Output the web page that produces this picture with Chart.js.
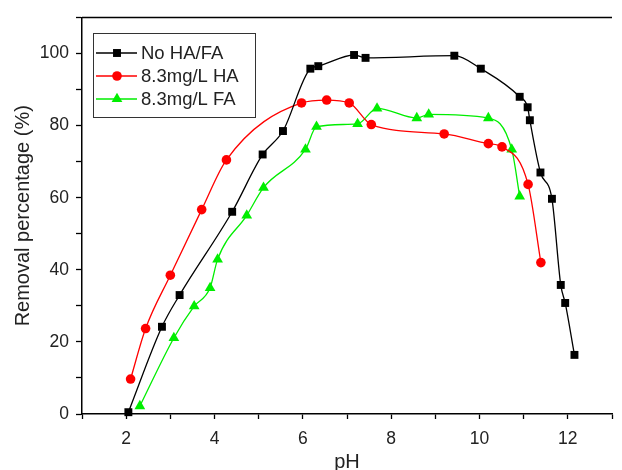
<!DOCTYPE html>
<html>
<head>
<meta charset="utf-8">
<script src="https://cdn.jsdelivr.net/npm/chart.js@4.4.1/dist/chart.umd.min.js"></script>
<style>
  html, body { margin: 0; padding: 0; background: #fff; }
  #wrap { width: 622px; height: 470px; position: relative; }
</style>
</head>
<body>
<div id="wrap"><canvas id="phChart"></canvas></div>
<script>
// pH vs removal data
const phNone = [2.05, 2.81, 3.21, 4.40, 5.09, 5.55, 6.17, 6.35, 7.16, 7.42, 9.43, 10.03, 10.91, 11.09, 11.14, 11.38, 11.64, 11.84, 11.94, 12.15];
const remNone = [0.5, 24.2, 33.0, 56.1, 72.0, 78.5, 95.8, 96.5, 99.6, 98.8, 99.4, 95.8, 88.0, 85.1, 81.5, 67.0, 59.7, 35.8, 30.8, 16.4];

const phHA = [2.10, 2.44, 3.00, 3.71, 4.27, 5.97, 6.54, 7.05, 7.55, 9.20, 10.20, 10.51, 11.10, 11.39];
const remHA = [9.7, 23.7, 38.5, 56.7, 70.5, 86.3, 87.1, 86.3, 80.3, 77.7, 75.0, 74.1, 63.7, 42.0];

const phFA = [2.31, 3.08, 3.54, 3.90, 4.07, 4.73, 5.11, 6.06, 6.31, 7.24, 7.68, 8.58, 8.85, 10.20, 10.73, 10.91];
const remFA = [2.2, 21.1, 29.9, 35.0, 42.9, 55.1, 62.8, 73.4, 79.7, 80.5, 84.8, 82.1, 83.1, 82.1, 73.4, 60.4];

const seriesLabels = ['No HA/FA', '8.3mg/L HA', '8.3mg/L FA'];
const xTickLabels = [2, 4, 6, 8, 10, 12];
const yTickLabels = [0, 20, 40, 60, 80, 100];

const FONT = "'Liberation Sans', Arial, sans-serif";

function toPoints(xs, ys) {
    return xs.map((x, i) => ({ x: x, y: ys[i] }));
}

// legend box inside the plot, plus the top frame line
const frameAndLegend = {
    id: 'frameAndLegend',
    afterDraw(chart) {
        const ctx = chart.ctx;
        const area = chart.chartArea;
        ctx.save();
        ctx.strokeStyle = '#000';
        ctx.lineWidth = 1.5;
        ctx.beginPath();
        ctx.moveTo(area.left, area.top);
        ctx.lineTo(area.right, area.top);
        ctx.stroke();

        const box = { x: 93, y: 33, w: 162, h: 84 };
        ctx.lineWidth = 1;
        ctx.strokeStyle = '#333';
        ctx.strokeRect(box.x + 0.5, box.y + 0.5, box.w, box.h);

        const rows = [53, 76, 99];
        chart.data.datasets.forEach((ds, i) => {
            const y = rows[i];
            ctx.strokeStyle = ds.borderColor;
            ctx.lineWidth = 1.3;
            ctx.beginPath();
            ctx.moveTo(96, y);
            ctx.lineTo(137, y);
            ctx.stroke();

            ctx.fillStyle = ds.pointBackgroundColor;
            const cx = 117;
            const r = ds.pointRadius;
            ctx.beginPath();
            if (ds.pointStyle === 'rect') {
                const s = r * Math.SQRT1_2;
                ctx.rect(cx - s, y - s, 2 * s, 2 * s);
            } else if (ds.pointStyle === 'triangle') {
                ctx.moveTo(cx, y - r);
                ctx.lineTo(cx + r * 0.866, y + r / 2);
                ctx.lineTo(cx - r * 0.866, y + r / 2);
                ctx.closePath();
            } else {
                ctx.arc(cx, y, r, 0, Math.PI * 2);
            }
            ctx.fill();

            ctx.fillStyle = '#222';
            ctx.font = '18.5px ' + FONT;
            ctx.textBaseline = 'middle';
            ctx.textAlign = 'left';
            ctx.fillText(ds.label, 141, y + 1);
        });
        ctx.restore();
    }
};

new Chart(document.getElementById('phChart'), {
    type: 'line',
    data: {
        datasets: [
            {
                label: seriesLabels[0], data: toPoints(phNone, remNone),
                borderColor: '#000', backgroundColor: '#000', pointBackgroundColor: '#000',
                pointStyle: 'rect', pointRadius: 5.6, pointBorderWidth: 0,
                borderWidth: 1.3, cubicInterpolationMode: 'monotone', clip: false
            },
            {
                label: seriesLabels[1], data: toPoints(phHA, remHA),
                borderColor: '#ff0000', backgroundColor: '#ff0000', pointBackgroundColor: '#ff0000',
                pointStyle: 'circle', pointRadius: 4.8, pointBorderWidth: 0,
                borderWidth: 1.3, cubicInterpolationMode: 'monotone', clip: false
            },
            {
                label: seriesLabels[2], data: toPoints(phFA, remFA),
                borderColor: '#00ee00', backgroundColor: '#00ee00', pointBackgroundColor: '#00ee00',
                pointStyle: 'triangle', pointRadius: 6.2, pointBorderWidth: 0,
                borderWidth: 1.3, cubicInterpolationMode: 'monotone', clip: false
            }
        ]
    },
    options: {
        responsive: true, maintainAspectRatio: false, animation: false,
        layout: { autoPadding: false, padding: { top: 13, right: 0, left: 0, bottom: 0 } },
        plugins: { legend: { display: false }, tooltip: { enabled: false } },
        elements: { point: { hoverRadius: 0 } },
        scales: {
            x: {
                type: 'linear', min: 1, max: 13,
                afterFit: (scale) => { scale.height = 56; },
                border: { color: '#000', width: 1.5 },
                grid: { drawOnChartArea: false, tickLength: 5, tickColor: '#000', tickWidth: 1.3 },
                ticks: {
                    stepSize: 1, padding: 10, color: '#222', autoSkip: false, maxRotation: 0,
                    font: { family: FONT, size: 17.5 },
                    callback: (v) => xTickLabels.includes(v) ? String(v) : ''
                },
                title: { display: true, text: 'pH', color: '#222', padding: { top: 0, bottom: 0 },
                         font: { family: FONT, size: 20, lineHeight: 0.8 } }
            },
            y: {
                min: 0, max: 110,
                afterFit: (scale) => { scale.width = 82; },
                border: { color: '#000', width: 1.5 },
                grid: { drawOnChartArea: false, tickLength: 6, tickColor: '#000', tickWidth: 1.3 },
                ticks: {
                    stepSize: 10, padding: 7, color: '#222', autoSkip: false,
                    font: { family: FONT, size: 17.5 },
                    callback: (v) => yTickLabels.includes(v) ? String(v) : ''
                },
                title: { display: true, text: 'Removal percentage (%)', color: '#222', padding: { top: 13, bottom: 0 },
                         font: { family: FONT, size: 20, lineHeight: 1 } }
            }
        }
    },
    plugins: [frameAndLegend]
});
</script>
</body>
</html>
